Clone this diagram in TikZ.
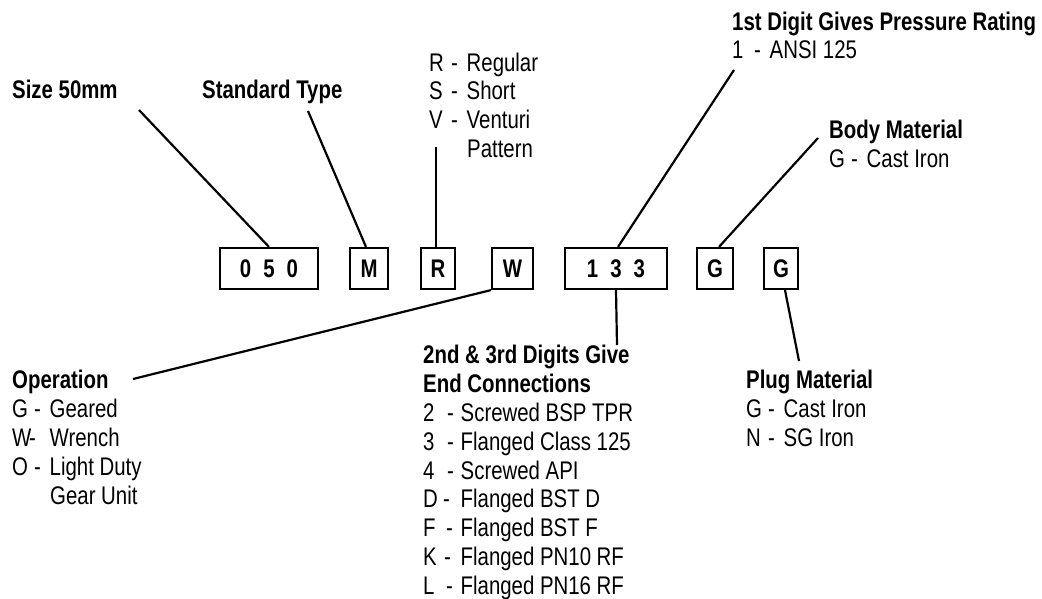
\documentclass[tikz,border=0pt]{standalone}
\usepackage{fontspec}
\setmainfont[FakeStretch=0.8]{Liberation Sans}
\newcommand\codeline[3][22pt]{\makebox[37.5pt][l]{\makebox[#1][l]{#2}-}#3}
\tikzset{
  lab/.style={anchor=base west, inner sep=0pt, font=\fontsize{25.5}{29}\selectfont},
  head/.style={lab, font=\fontsize{25.5}{29}\selectfont\bfseries},
  codebox/.style={draw, line width=2.2pt, minimum height=41pt, inner sep=0pt,
    font=\fontsize{25.5}{29}\selectfont\bfseries},
  lead/.style={line width=2.2pt},
}
\begin{document}
\begin{tikzpicture}[x=1pt,y=-1pt]
\useasboundingbox (0,0) rectangle (1042,598);
% code boxes
\node[codebox, minimum width=98pt] (b050) at (269,268.5) {0\hspace{12pt}5\hspace{12pt}0};
\node[codebox, minimum width=38pt] (bM) at (369,268.5) {M};
\node[codebox, minimum width=34pt] (bR) at (438,268.5) {R};
\node[codebox, minimum width=41pt] (bW) at (512.5,268.5) {W};
\node[codebox, minimum width=102pt] (b133) at (616,268.5) {1\hspace{12pt}3\hspace{12pt}3};
\node[codebox, minimum width=36pt] (bG1) at (715,268.5) {G};
\node[codebox, minimum width=34pt] (bG2) at (781,268.5) {G};
% labels
\node[head] (tsize) at (12,98) {Size 50mm};
\node[head] (tstd) at (202,98) {Standard Type};
\node[lab] (tR1) at (429,71) {\codeline{R}{Regular}};
\node[lab] (tR2) at (429,99) {\codeline{S}{Short}};
\node[lab] (tR3) at (429,128) {\codeline{V}{Venturi}};
\node[lab] (tR4) at (467,157) {Pattern};
\node[head] (tpr) at (732,30) {1st Digit Gives Pressure Rating};
\node[lab] (tpr1) at (732,58) {\codeline{1}{ANSI 125}};
\node[head] (tbody) at (829,138) {Body Material};
\node[lab] (tbody1) at (829,167) {\codeline{G}{Cast Iron}};
\node[head] (top) at (12,388) {Operation};
\node[lab] (top1) at (12,417) {\codeline{G}{Geared}};
\node[lab] (top2) at (12,446) {\codeline[17pt]{W}{Wrench}};
\node[lab] (top3) at (12,475) {\codeline{O}{Light Duty}};
\node[lab] (top4) at (50,504) {Gear Unit};
\node[head] (tend) at (423,363) {2nd \& 3rd Digits Give};
\node[head] (tend0) at (423,392) {End Connections};
\node[lab] (tend1) at (423,421.5) {\codeline[24pt]{2}{Screwed BSP TPR}};
\node[lab] (tend2) at (423,450.3) {\codeline[24pt]{3}{Flanged Class 125}};
\node[lab] (tend3) at (423,479.1) {\codeline[24pt]{4}{Screwed API}};
\node[lab] (tend4) at (423,507.9) {\codeline[20pt]{D}{Flanged BST D}};
\node[lab] (tend5) at (423,536.7) {\codeline[23pt]{F}{Flanged BST F}};
\node[lab] (tend6) at (423,565.5) {\codeline[21pt]{K}{Flanged PN10 RF}};
\node[lab] (tend7) at (423,594.3) {\codeline[23pt]{L}{Flanged PN16 RF}};
\node[head] (tplug) at (746,388) {Plug Material};
\node[lab] (tplug1) at (746,417) {\codeline{G}{Cast Iron}};
\node[lab] (tplug2) at (746,446) {\codeline{N}{SG Iron}};
% free ends of leaders
\coordinate (c050) at (139,110);
\coordinate (cM) at (308,111);
\coordinate (cR) at (436,147);
\coordinate (c1st) at (734,70);
\coordinate (cBody) at (818,138);
\coordinate (c133) at (617,345);
\coordinate (cG2) at (799,361);
\coordinate (cOp) at (133,379);
% leaders
\draw[lead] (c050) -- (b050.north);
\draw[lead] (cM) -- ([xshift=-3pt]bM.north);
\draw[lead] (cR) -- ([xshift=-2pt]bR.north);
\draw[lead] (c1st) -- ([xshift=2pt]b133.north);
\draw[lead] (cBody) -- ([xshift=4pt]bG1.north);
\draw[lead] (b133.south) -- (c133);
\draw[lead] ([xshift=4pt]bG2.south) -- (cG2);
\draw[lead] (bW.south west) -- (cOp);
\end{tikzpicture}
\end{document}
